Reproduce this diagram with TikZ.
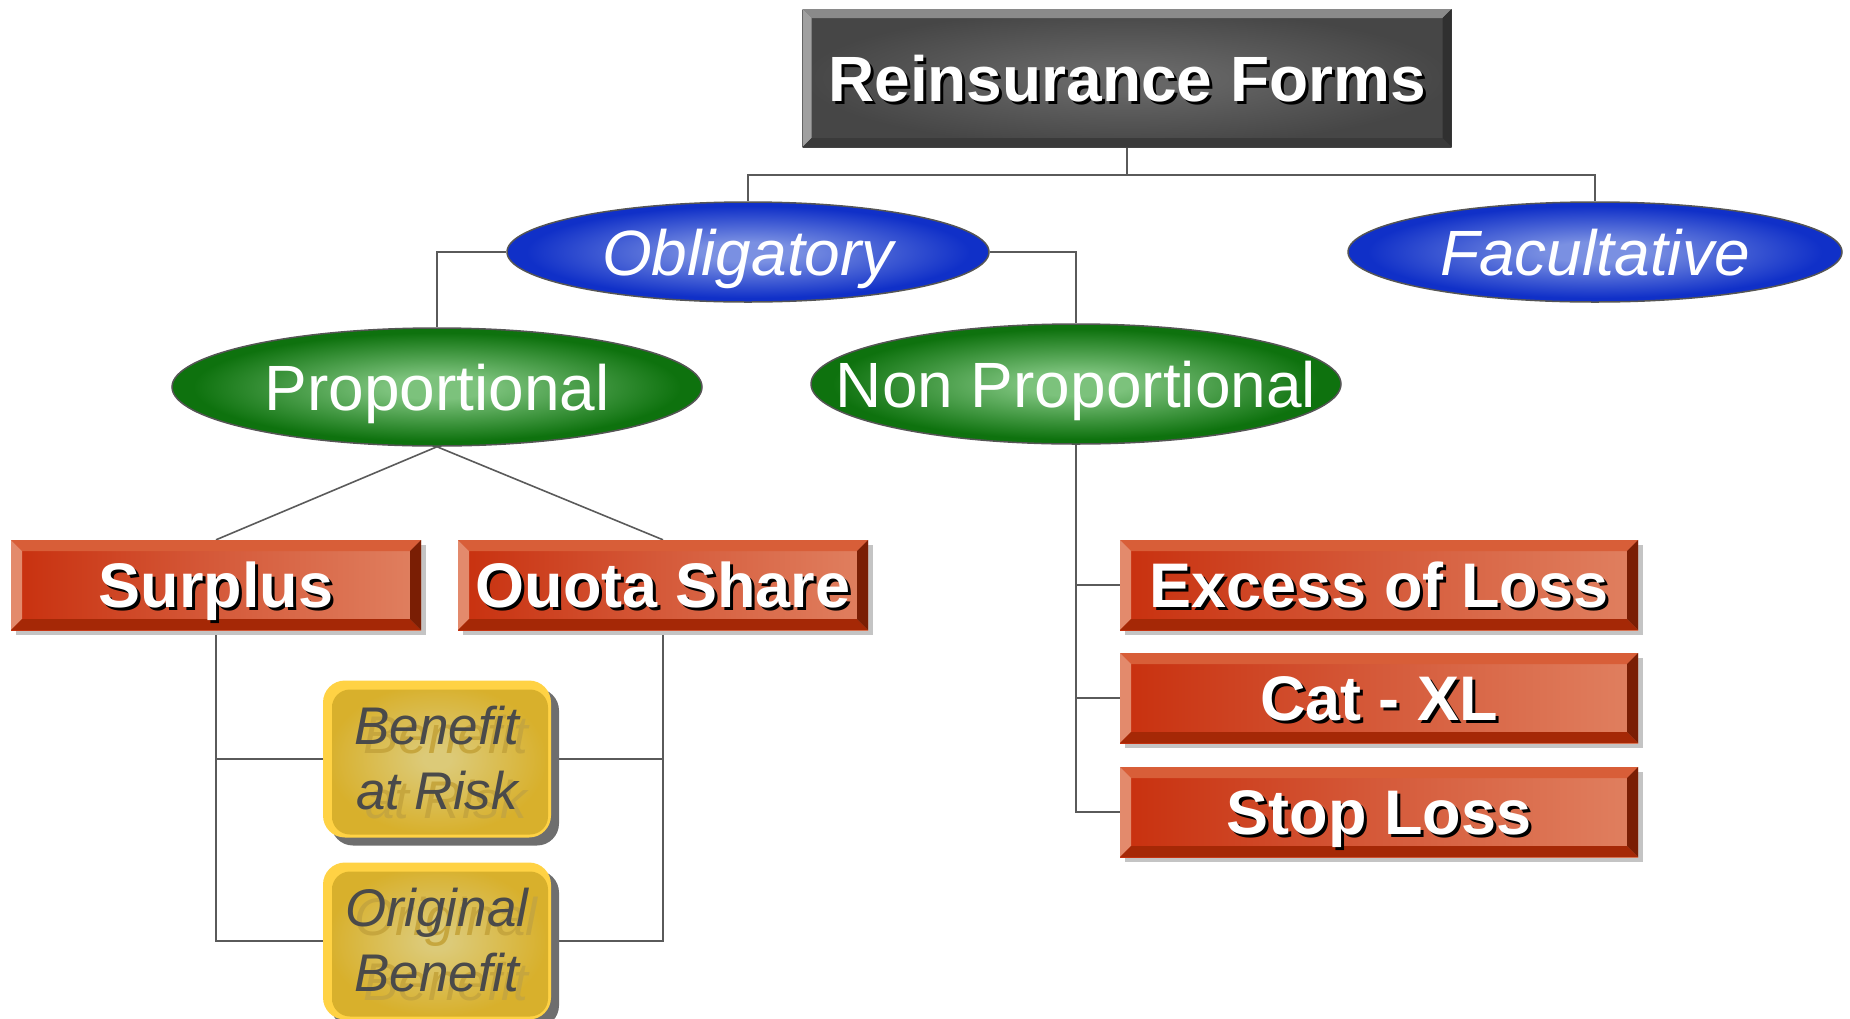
\documentclass[tikz,border=0pt]{standalone}
\usepackage{fontspec}
\setmainfont{Liberation Sans}
\usetikzlibrary{shapes.geometric,shadows,backgrounds}
\definecolor{conn}{HTML}{5A5A5A}
\definecolor{redL}{HTML}{C8300E}
\definecolor{redM}{HTML}{D55A3A}
\definecolor{redR}{HTML}{E08060}
\definecolor{redTop}{HTML}{D85E38}
\definecolor{redLeft}{HTML}{E38A6C}
\definecolor{redBot}{HTML}{A52806}
\definecolor{redRight}{HTML}{7A1E04}
\definecolor{shgray}{HTML}{C4C4C4}
\definecolor{tface}{HTML}{464646}
\definecolor{tfaceC}{HTML}{666666}
\definecolor{tTop}{HTML}{8A8A8A}
\definecolor{tLeft}{HTML}{A0A0A0}
\definecolor{tBot}{HTML}{3A3A3A}
\definecolor{tRight}{HTML}{303030}
\definecolor{blueO}{HTML}{1030C8}
\definecolor{blueI}{HTML}{7A90E2}
\definecolor{greenO}{HTML}{0E720E}
\definecolor{greenI}{HTML}{7CC27C}
\definecolor{ellb}{HTML}{555555}
\definecolor{yRim}{HTML}{FFD244}
\definecolor{yO}{HTML}{D8B02C}
\definecolor{yI}{HTML}{DCCA78}
\definecolor{yText}{HTML}{4A4A4A}
\definecolor{yGhost}{HTML}{C6A63E}
\definecolor{yShadow}{HTML}{6E6E6E}
\pgfdeclareradialshading{blueshade}{\pgfpoint{0bp}{0bp}}{color(0bp)=(blueI); color(5bp)=(blueI); color(23bp)=(blueO); color(50bp)=(blueO)}
\pgfdeclareradialshading{greenshade}{\pgfpoint{0bp}{0bp}}{color(0bp)=(greenI); color(5bp)=(greenI); color(23bp)=(greenO); color(50bp)=(greenO)}
\pgfdeclareradialshading{yshade}{\pgfpoint{0bp}{0bp}}{color(0bp)=(yI); color(3bp)=(yI); color(24bp)=(yO); color(50bp)=(yO)}
\pgfdeclareradialshading{tshade}{\pgfpoint{0bp}{0bp}}{color(0bp)=(tfaceC); color(5bp)=(tfaceC); color(25bp)=(tface); color(50bp)=(tface)}
\newcommand\bev[5]{%
\fill[#2] (path picture bounding box.north west) -- (path picture bounding box.north east) -- ([xshift=-#1,yshift=-#1]path picture bounding box.north east) -- ([xshift=#1,yshift=-#1]path picture bounding box.north west) -- cycle;
\fill[#3] (path picture bounding box.north west) -- (path picture bounding box.south west) -- ([xshift=#1,yshift=#1]path picture bounding box.south west) -- ([xshift=#1,yshift=-#1]path picture bounding box.north west) -- cycle;
\fill[#4] (path picture bounding box.south west) -- (path picture bounding box.south east) -- ([xshift=-#1,yshift=#1]path picture bounding box.south east) -- ([xshift=#1,yshift=#1]path picture bounding box.south west) -- cycle;
\fill[#5] (path picture bounding box.north east) -- (path picture bounding box.south east) -- ([xshift=-#1,yshift=#1]path picture bounding box.south east) -- ([xshift=-#1,yshift=-#1]path picture bounding box.north east) -- cycle;}
\newcommand\shd[1]{\rlap{\kern3pt\raisebox{-3pt}{\color{black}#1}}#1}
\newcommand\ghosttext[1]{\raisebox{0pt}[\dimexpr\height+18pt\relax][\depth]{\rlap{\kern9pt\raisebox{-9pt}{\color{yGhost}\begin{tabular}{@{}c@{}}#1\end{tabular}}}\begin{tabular}{@{}c@{}}#1\end{tabular}}}
\tikzset{
  conn/.style={draw=conn, line width=1.6pt},
  titlebox/.style={rectangle, inner sep=0pt, minimum width=649pt, minimum height=138pt,
    shading=tshade, text=white, font=\fontsize{64}{70}\selectfont\bfseries,
    text height=50pt, text depth=4pt,
    path picture={\bev{9pt}{tTop}{tLeft}{tBot}{tRight}}},
  redbox/.style={rectangle, inner sep=0pt, minimum height=90pt,
    left color=redL, right color=redR, middle color=redM,
    text=white, font=\fontsize{63}{70}\selectfont\bfseries,
    text height=50pt, text depth=5pt,
    drop shadow={shadow xshift=5pt, shadow yshift=-5pt, fill=shgray, opacity=1},
    path picture={\bev{11pt}{redTop}{redLeft}{redBot}{redRight}}},
  ell/.style={ellipse, inner xsep=-80pt, inner ysep=-20pt, draw=ellb, line width=1.5pt, text=white,
    text height=50pt, text depth=4pt},
  blueell/.style={ell, shading=blueshade, font=\fontsize{64}{70}\selectfont\itshape},
  greenell/.style={ell, shading=greenshade, font=\fontsize{64}{70}\selectfont},
  yelbox/.style={rectangle, rounded corners=22pt, inner sep=0pt, minimum width=228pt, minimum height=152pt,
    fill=yRim, text=yText, font=\fontsize{53}{65}\selectfont\itshape,
    drop shadow={shadow xshift=8pt, shadow yshift=-8pt, fill=yShadow, opacity=1},
    path picture={\shade[shading=yshade, rounded corners=18pt] ([xshift=9pt,yshift=-9pt]path picture bounding box.north west) rectangle ([xshift=-3pt,yshift=3pt]path picture bounding box.south east);}}
}
\begin{document}
\begin{tikzpicture}[x=1pt,y=-1pt]
\useasboundingbox (0,0) rectangle (1850,1018);
\node[titlebox] (title) at (1127,78) {\shd{Reinsurance Forms}};
\node[blueell, minimum width=482pt, minimum height=100pt] (obl) at (748,252) {Obligatory};
\node[blueell, minimum width=494pt, minimum height=100pt] (fac) at (1595,252) {Facultative};
\node[greenell, minimum width=530pt, minimum height=118pt] (prop) at (437,387) {Proportional};
\node[greenell, minimum width=530pt, minimum height=120pt] (nprop) at (1076,384) {Non Proportional};
\node[redbox, minimum width=410pt] (sur) at (216,585) {\shd{Surplus}};
\node[redbox, minimum width=410pt] (quo) at (663,585) {\shd{Ouota Share}};
\node[redbox, minimum width=518pt] (xl) at (1379,585) {\shd{Excess of Loss}};
\node[redbox, minimum width=518pt] (cat) at (1379,698) {\shd{Cat - XL}};
\node[redbox, minimum width=518pt] (sl) at (1379,812) {\shd{Stop Loss}};
\node[yelbox] (bar) at (437,759) {\ghosttext{Benefit\\at Risk}};
\node[yelbox] (ob) at (437,941) {\ghosttext{Original\\Benefit}};
\begin{scope}[on background layer]
\draw[conn] (title.south) -- ++(0,28) coordinate (tj) -| (obl.north);
\draw[conn] (tj) -| (fac.north);
\draw[conn] (obl.west) -| (prop.north);
\draw[conn] (obl.east) -| (nprop.north);
\draw[conn] (prop.south) -- (sur.north);
\draw[conn] (prop.south) -- (quo.north);
\draw[conn] (sur.south) |- (bar.west);
\draw[conn] (sur.south) |- (ob.west);
\draw[conn] (quo.south) |- (bar.east);
\draw[conn] (quo.south) |- (ob.east);
\draw[conn] (nprop.south) |- (xl.west);
\draw[conn] (nprop.south) |- (cat.west);
\draw[conn] (nprop.south) |- (sl.west);
\end{scope}
\end{tikzpicture}
\end{document}
